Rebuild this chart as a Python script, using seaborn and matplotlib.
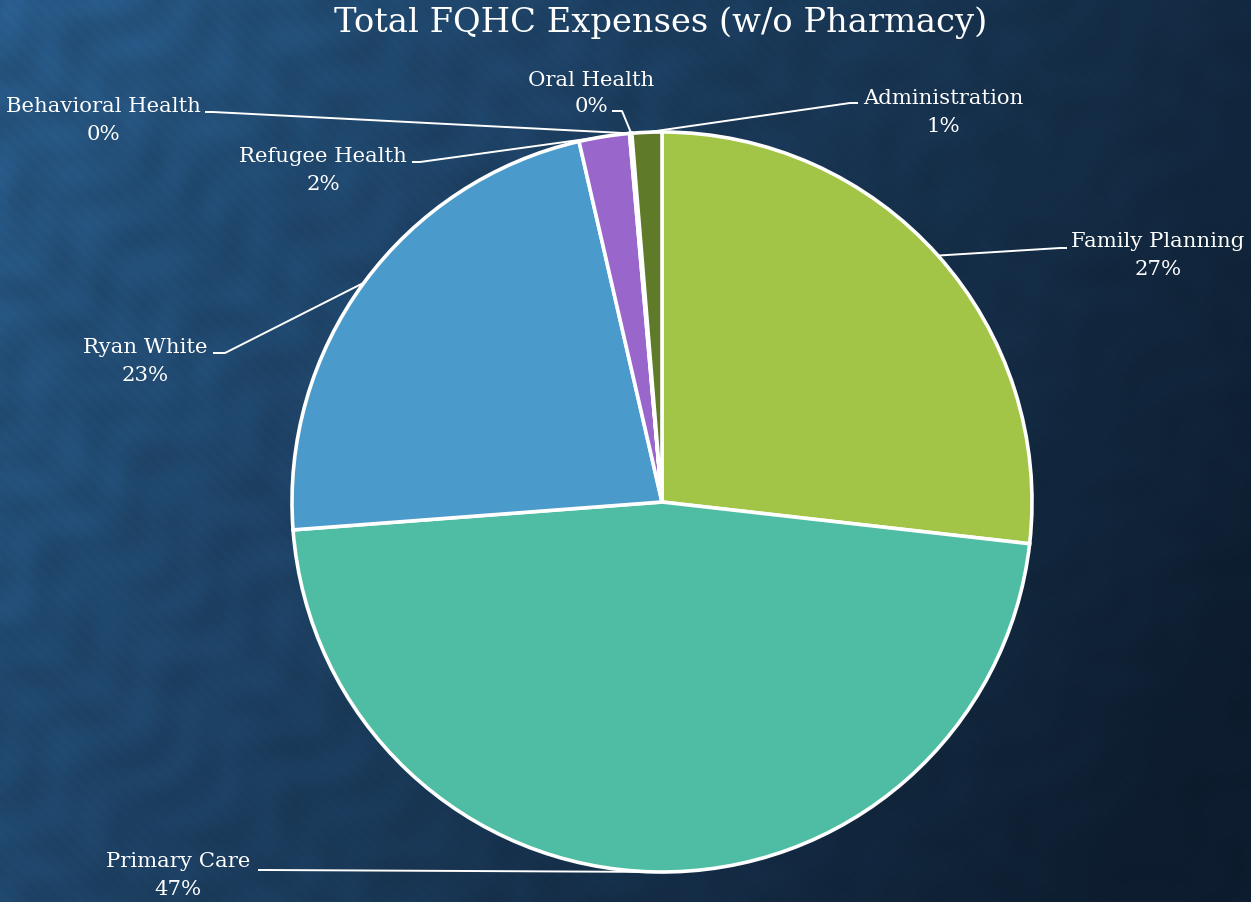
import numpy as np
import matplotlib
matplotlib.use("Agg")
import matplotlib.pyplot as plt
import seaborn as sns

sns.set_theme(style="white")
plt.rcParams["font.family"] = ["DejaVu Serif", "DejaVu Sans"]

# Expense shares by program (percent)
categories = ["Family Planning", "Primary Care", "Ryan White", "Refugee Health",
              "Behavioral Health", "Oral Health", "Administration"]
shares = [26.8, 47.0, 22.6, 2.2, 0.05, 0.05, 1.3]
colors = ["#a2c547", "#4fbda3", "#4a9bcb", "#9966cc", "#3f6f99", "#6a8a3a", "#5f7a28"]
title = "Total FQHC Expenses (w/o Pharmacy)"

W, H = 1251, 903
fig = plt.figure(figsize=(W / 100, H / 100), dpi=100)

# Background: dark blue gradient with a faint blotchy damask-like texture
bg = fig.add_axes([0, 0, 1, 1], zorder=0)
yy, xx = np.mgrid[0:H, 0:W].astype(float)
t = np.clip(0.78 * xx / W + 0.30 * yy / H, 0, 1) ** 0.9
light = np.array([0x28, 0x5a, 0x88]) / 255
dark = np.array([0x0d, 0x1c, 0x2e]) / 255
img = light[None, None, :] * (1 - t[..., None]) + dark[None, None, :] * t[..., None]
blot = (np.sin(xx / 23.0 + 1.7 * np.sin(yy / 31.0)) * np.sin(yy / 19.0 + 1.3 * np.cos(xx / 37.0))
        + 0.6 * np.sin((xx + yy) / 13.0 + 2.0 * np.sin((xx - yy) / 29.0))
        + 0.3 * np.sin((xx - yy) / 2.3))
img = img * (1 + 0.05 * blot[..., None] * (1 - 0.5 * t[..., None]))
bg.imshow(np.clip(img, 0, 1), extent=(0, W, H, 0), aspect="auto", interpolation="bilinear")
bg.set_axis_off()

ax = fig.add_axes([0, 0, 1, 1], zorder=1)
ax.patch.set_alpha(0)

cx, cy, r = 662, 503, 370
# y axis is inverted, so counterclock=True runs clockwise on screen
wedges, _ = ax.pie(shares, colors=colors, startangle=-90, counterclock=True,
                   center=(cx, cy), radius=r, frame=True,
                   wedgeprops=dict(edgecolor="white", linewidth=2.6))
ax.set_xlim(0, W)
ax.set_ylim(H, 0)
ax.set_aspect("auto")
ax.set_axis_off()

# label layout: (text centre x, name y, pct y, anchor x, anchor y, elbow x, elbow y)
layout = {
    "Family Planning":   (1158, 242, 270, 1067, 249, 1060, 249),
    "Primary Care":      (178, 862, 890, 258, 871, 266, 871),
    "Ryan White":        (145, 348, 376, 213, 354, 225, 354),
    "Refugee Health":    (323, 157, 185, 412, 163, 420, 163),
    "Behavioral Health": (103, 107, 135, 205, 113, 213, 113),
    "Oral Health":       (591, 81, 107, 612, 112, 622, 112),
    "Administration":    (943, 99, 127, 858, 104, 850, 104),
}

total = sum(shares)
for w, name, val in zip(wedges, categories, shares):
    mid = np.deg2rad((w.theta1 + w.theta2) / 2)
    px = cx + r * np.cos(mid)
    py = cy + r * np.sin(mid)
    tx, ny, vy, ax_, ay_, ex, ey = layout[name]
    pct = f"{round(val / total * 100):.0f}%"
    ax.text(tx, ny, name, ha="center", va="center", color="white", fontsize=15.3)
    ax.text(tx, vy, pct, ha="center", va="center", color="white", fontsize=15.3)
    ax.plot([ax_, ex, px], [ay_, ey, py], color="white", lw=1.4,
            solid_capstyle="butt", zorder=5)

fig.text(661 / W, 1 - 23 / H, title, ha="center", va="center",
         color="white", fontsize=24.3)

fig.savefig("out.png", dpi=100)
